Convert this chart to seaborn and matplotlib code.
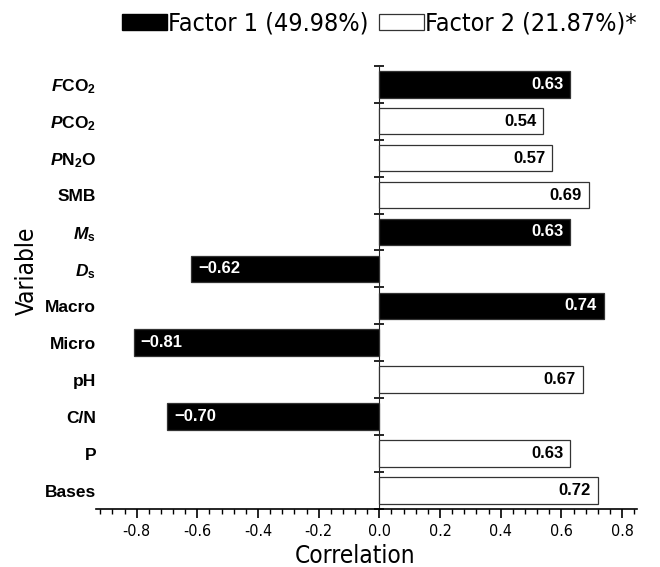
import numpy as np
import pandas as pd
import matplotlib
matplotlib.use("Agg")
import matplotlib.pyplot as plt
from matplotlib import font_manager
from matplotlib.patches import Patch
from matplotlib.ticker import MultipleLocator, FormatStrFormatter
import seaborn as sns

# Data (top to bottom)
variables = [
    r"$\mathbfit{F}\mathbf{CO_2}$",
    r"$\mathbfit{P}\mathbf{CO_2}$",
    r"$\mathbfit{P}\mathbf{N_2O}$",
    "SMB",
    r"$\mathbfit{M}_\mathbf{s}$",
    r"$\mathbfit{D}_\mathbf{s}$",
    "Macro",
    "Micro",
    "pH",
    "C/N",
    "P",
    "Bases",
]
factors = ["Factor 1", "Factor 2", "Factor 2", "Factor 2", "Factor 1", "Factor 1",
           "Factor 1", "Factor 1", "Factor 2", "Factor 1", "Factor 2", "Factor 2"]
values = [0.63, 0.54, 0.57, 0.69, 0.63, -0.62, 0.74, -0.81, 0.67, -0.70, 0.63, 0.72]
legend_labels = ["Factor 1 (49.98%)", "Factor 2 (21.87%)*"]

df = pd.DataFrame({"variable": variables, "value": values, "factor": factors})

sns.set_style("white")

# look for a condensed sans face, otherwise shrink Liberation Sans
ttf = font_manager.fontManager.ttflist
cond = [f for f in ttf if str(f.stretch) in ("condensed", "semi-condensed", "extra-condensed")
        or "Narrow" in f.name or "Condensed" in f.name]
pref = ["Liberation Sans Narrow", "DejaVu Sans", "Roboto", "Noto Sans", "Open Sans"]
cond.sort(key=lambda f: pref.index(f.name) if f.name in pref else 99)
if cond:
    cfam, cstretch, k = cond[0].name, cond[0].stretch, 1.0
else:
    cfam, cstretch, k = "Liberation Sans", "normal", 0.9

plt.rcParams["font.family"] = [cfam, "DejaVu Sans"]
plt.rcParams["font.stretch"] = cstretch
plt.rcParams["axes.unicode_minus"] = False
plt.rcParams["text.color"] = "black"
plt.rcParams["axes.labelcolor"] = "black"
plt.rcParams["xtick.color"] = "black"
plt.rcParams["ytick.color"] = "black"
plt.rcParams["mathtext.fontset"] = "custom"
plt.rcParams["mathtext.rm"] = "Liberation Sans"
plt.rcParams["mathtext.it"] = "Liberation Sans:italic"
plt.rcParams["mathtext.bf"] = "Liberation Sans:bold"
plt.rcParams["mathtext.bfit"] = "Liberation Sans:italic:bold"

fig = plt.figure(figsize=(6.6, 5.67), dpi=100)
ax = fig.add_axes([0.1455, 0.1023, 0.8195, 0.7817])

sns.barplot(
    data=df,
    x="value",
    y="variable",
    hue="factor",
    order=variables,
    hue_order=["Factor 1", "Factor 2"],
    palette={"Factor 1": "black", "Factor 2": "white"},
    dodge=False,
    width=0.72,
    edgecolor="#333333",
    linewidth=0.9,
    legend=False,
    ax=ax,
)

xmin, xmax = -0.934, 0.849
ax.set_xlim(xmin, xmax)
ax.set_ylim(len(variables) - 0.5, -0.5)

# spines
for s in ["left", "top", "right"]:
    ax.spines[s].set_visible(False)
ax.spines["bottom"].set_linewidth(1.2)
ax.spines["bottom"].set_color("black")

# x ticks
ax.xaxis.set_major_locator(MultipleLocator(0.2))
ax.xaxis.set_minor_locator(MultipleLocator(0.04))
ax.xaxis.set_major_formatter(FormatStrFormatter("%.1f"))
ax.tick_params(axis="x", which="major", direction="out", length=6.5, width=1.2,
               labelsize=11.5 * k, pad=4, bottom=True, color="black")
ax.tick_params(axis="x", which="minor", direction="out", length=3.8, width=1,
               bottom=True, color="black")

# y tick labels
ax.tick_params(axis="y", length=0, pad=0)
for lab in ax.get_yticklabels():
    lab.set_fontweight("bold")
    lab.set_family("Liberation Sans")
    lab.set_stretch("normal")
    lab.set_fontsize(12.5)
    lab.set_color("black")

# zero line with category boundary ticks
sec = ax.secondary_yaxis((0 - xmin) / (xmax - xmin))
sec.set_yticks(np.arange(-0.5, len(variables)))
sec.tick_params(direction="inout", length=6.5, width=1.2, labelleft=False,
                labelright=False, color="black")
sec.spines["left"].set_linewidth(1.2)
sec.spines["left"].set_color("black")

# value labels
for cont in ax.containers:
    for bar in cont:
        w = bar.get_width()
        if np.isnan(w):
            continue
        y = bar.get_y() + bar.get_height() / 2
        dark = bar.get_facecolor()[0] < 0.5
        txt = ("\u2212" if w < 0 else "") + f"{abs(w):.2f}"
        ax.annotate(
            txt, (w, y),
            xytext=(-5 if w >= 0 else 5, 0), textcoords="offset points",
            ha="right" if w >= 0 else "left", va="center",
            color="white" if dark else "black",
            fontsize=12, fontweight="bold", family="Liberation Sans",
            fontstretch="normal",
        )

ax.set_xlabel("Correlation", fontsize=17.5 * k)
ax.set_ylabel("Variable", fontsize=17.5 * k)
ax.xaxis.set_label_coords(0.479, -0.08)
ax.yaxis.set_label_coords(-0.105, 0.537)

handles = [Patch(facecolor="black", edgecolor="black"),
           Patch(facecolor="white", edgecolor="#333333", linewidth=0.9)]
fig.legend(handles, legend_labels, loc="center", bbox_to_anchor=(0.575, 0.958),
           ncol=2, frameon=False, prop={"size": 18 * k},
           handlelength=1.8 / k, handleheight=0.56 / k,
           handletextpad=0.05, columnspacing=0.4, borderpad=0, borderaxespad=0)

fig.savefig("out.png", dpi=100)
